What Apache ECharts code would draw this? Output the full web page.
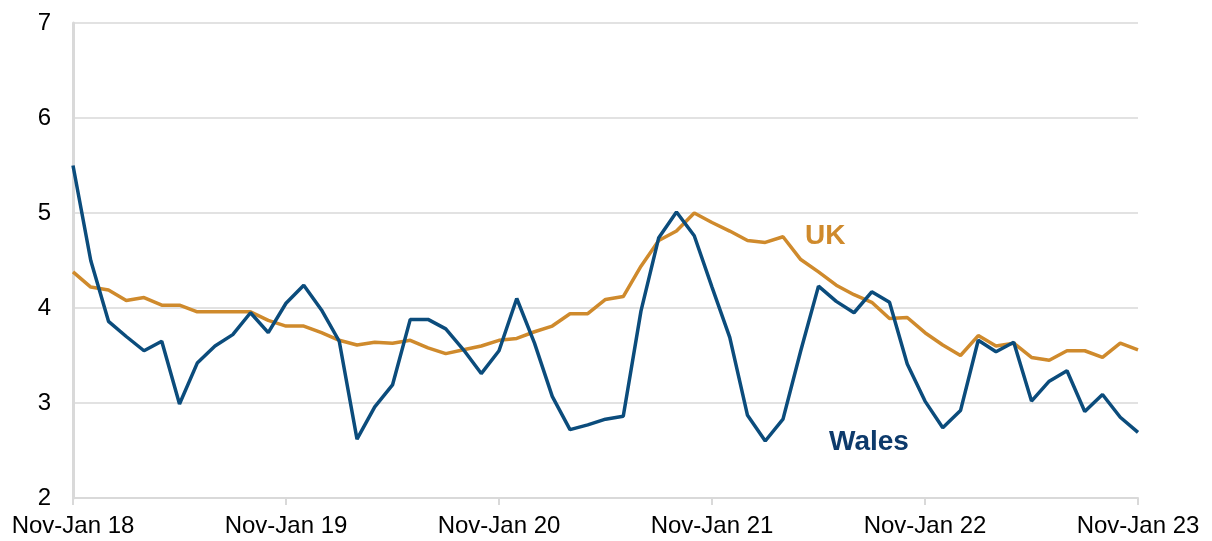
<!DOCTYPE html>
<html>
<head>
<meta charset="utf-8">
<script src="https://cdn.jsdelivr.net/npm/echarts@6/dist/echarts.min.js"></script>
<style>
  html, body { margin: 0; padding: 0; background: #fff; }
  #chart { width: 1212px; height: 541px; }
</style>
</head>
<body>
<div id="chart"></div>
<script>
// rolling three-month periods, Nov-Jan 18 .. Nov-Jan 23
var periodNames = ['Nov-Jan', 'Dec-Feb', 'Jan-Mar', 'Feb-Apr', 'Mar-May', 'Apr-Jun',
    'May-Jul', 'Jun-Aug', 'Jul-Sep', 'Aug-Oct', 'Sep-Nov', 'Oct-Dec'];
var years = ['18', '19', '20', '21', '22', '23'];

var categories = [];
years.forEach(function (yr, k) {
    periodNames.forEach(function (p, m) {
        if (k === years.length - 1 && m > 0) return;
        categories.push(p + ' ' + yr);
    });
});

var walesValues = [
    5.50, 4.50, 3.86, 3.70, 3.55, 3.65, 2.99, 3.42, 3.60, 3.72, 3.95, 3.74,
    4.05, 4.24, 3.98, 3.65, 2.62, 2.96, 3.19, 3.88, 3.88, 3.78, 3.56, 3.31,
    3.55, 4.10, 3.63, 3.07, 2.72, 2.77, 2.83, 2.86, 3.97, 4.74, 5.01, 4.76,
    4.22, 3.69, 2.87, 2.60, 2.83, 3.55, 4.23, 4.07, 3.95, 4.17, 4.06, 3.41,
    3.02, 2.74, 2.92, 3.66, 3.54, 3.64, 3.02, 3.23, 3.34, 2.91, 3.09, 2.85,
    2.69
];

var ukValues = [
    4.38, 4.22, 4.19, 4.08, 4.11, 4.03, 4.03, 3.96, 3.96, 3.96, 3.96, 3.87,
    3.81, 3.81, 3.74, 3.66, 3.61, 3.64, 3.63, 3.66, 3.58, 3.52, 3.56, 3.60,
    3.66, 3.68, 3.75, 3.81, 3.94, 3.94, 4.09, 4.12, 4.44, 4.71, 4.81, 5.00,
    4.90, 4.81, 4.71, 4.69, 4.75, 4.51, 4.38, 4.24, 4.14, 4.06, 3.89, 3.90,
    3.74, 3.61, 3.50, 3.71, 3.60, 3.63, 3.48, 3.45, 3.55, 3.55, 3.48, 3.63,
    3.56
];

var yTicks = [2, 3, 4, 5, 6, 7];

var walesColor = '#0b4c7c';
var ukColor = '#cf8a2c';

var chart = echarts.init(document.getElementById('chart'));

chart.setOption({
    animation: false,
    textStyle: { fontFamily: 'Liberation Sans, Arial, sans-serif' },
    grid: { left: 73, right: 74, top: 23, bottom: 43, containLabel: false },
    xAxis: {
        type: 'category',
        data: categories,
        boundaryGap: false,
        axisLine: { lineStyle: { color: '#d9d9d9', width: 2 } },
        axisTick: { show: true, interval: 11, length: 7, lineStyle: { color: '#d9d9d9', width: 2 } },
        axisLabel: { interval: 11, color: '#000', fontSize: 24, margin: 16 }
    },
    yAxis: {
        type: 'value',
        min: yTicks[0],
        max: yTicks[yTicks.length - 1],
        interval: 1,
        axisLine: { show: true, lineStyle: { color: '#d9d9d9', width: 3 } },
        axisTick: { show: false },
        axisLabel: { color: '#000', fontSize: 24, margin: 22 },
        splitLine: { lineStyle: { color: '#d9d9d9', width: 1.5 } }
    },
    series: [
        {
            name: 'UK',
            type: 'line',
            data: ukValues,
            showSymbol: false,
            lineStyle: { color: ukColor, width: 3.5 },
            z: 2
        },
        {
            name: 'Wales',
            type: 'line',
            data: walesValues,
            showSymbol: false,
            lineStyle: { color: walesColor, width: 3.5 },
            z: 3
        }
    ],
    graphic: [
        {
            type: 'text', left: 805, top: 222,
            style: { text: 'UK', fill: ukColor, font: 'bold 28px "Liberation Sans", Arial, sans-serif' }
        },
        {
            type: 'text', left: 829, top: 428,
            style: { text: 'Wales', fill: '#0d3a6b', font: 'bold 28px "Liberation Sans", Arial, sans-serif' }
        }
    ]
});
</script>
</body>
</html>
